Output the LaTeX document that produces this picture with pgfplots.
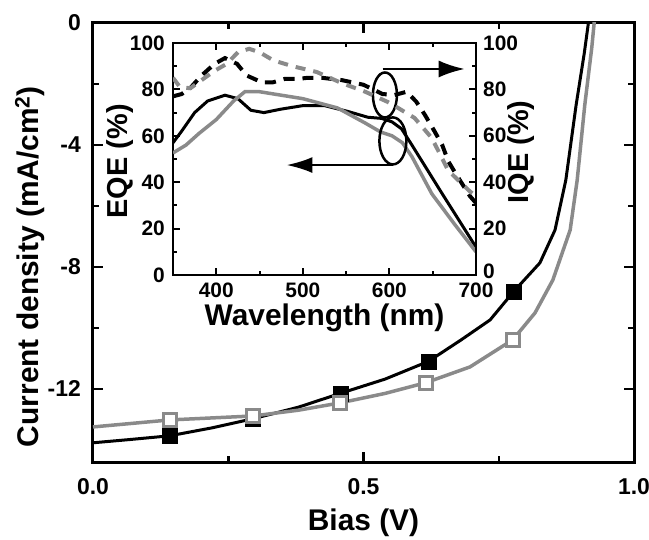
\documentclass[border=0pt]{standalone}
\usepackage{fontspec}
\setmainfont{Liberation Sans}
\usepackage{pgfplots}
\pgfplotsset{compat=1.18}
\usetikzlibrary{arrows.meta}
\definecolor{grayline}{RGB}{138,138,138}

\begin{document}
\begin{tikzpicture}
\begin{axis}[
  name=main, at={(0,0)}, anchor=south west,
  scale only axis, width=541bp, height=439bp,
  xmin=0, xmax=1, ymin=-14.4, ymax=0,
  xtick={0,0.5,1}, xticklabels={0.0,0.5,1.0},
  ytick={-12,-8,-4,0}, yticklabels={-12,-8,-4,0},
  minor x tick num=1, minor y tick num=1,
  tick align=inside,
  axis line style={line width=3bp},
  major tick length=10bp, minor tick length=6bp,
  every tick/.style={line width=2.5bp, black},
  tick label style={font=\fontsize{23}{23}\selectfont\bfseries, inner sep=0pt},
  xticklabel style={yshift=-16bp},
  yticklabel style={xshift=-12bp},
  /pgf/number format/assume math mode=true,
  xlabel={Bias (V)},
  ylabel={Current density (mA/cm\textsuperscript{2})},
  every axis x label/.style={at={(axis description cs:0.5,-0.139)}, anchor=center, inner sep=0pt, font=\fontsize{30}{30}\selectfont\bfseries},
  every axis y label/.style={at={(axis description cs:-0.1165,0.445)}, rotate=90, anchor=center, inner sep=0pt, font=\fontsize{30}{30}\selectfont\bfseries},
  clip=true,
]
% black curve (filled squares)
\addplot[black, line width=3bp] coordinates {
(0.000,-13.77) (0.070,-13.66) (0.142,-13.54) (0.220,-13.28) (0.296,-12.98)
(0.380,-12.60) (0.457,-12.15) (0.540,-11.68) (0.620,-11.10) (0.680,-10.40)
(0.734,-9.74) (0.778,-8.80) (0.826,-7.87) (0.854,-6.79) (0.874,-5.15)
(0.893,-2.69) (0.908,-1.00) (0.918,0.30)};
\addplot[only marks, mark=square*, mark size=7.5bp, black] coordinates {
(0.142,-13.54) (0.296,-12.98) (0.457,-12.15) (0.620,-11.10) (0.778,-8.80)};
% gray curve (open squares)
\addplot[grayline, line width=3.5bp] coordinates {
(0.000,-13.25) (0.142,-13.02) (0.296,-12.89) (0.380,-12.70) (0.457,-12.46)
(0.540,-12.15) (0.615,-11.80) (0.697,-11.28) (0.776,-10.39) (0.817,-9.51)
(0.850,-8.43) (0.882,-6.79) (0.895,-5.15) (0.909,-2.69) (0.922,-0.80) (0.928,0.30)};
\addplot[only marks, mark=square*, mark size=6.5bp, draw=grayline, fill=white, line width=3bp] coordinates {
(0.142,-13.02) (0.296,-12.89) (0.457,-12.46) (0.615,-11.80) (0.776,-10.39)};
\end{axis}

% inset, left axis (EQE)
\begin{axis}[
  name=inset, at={(80bp,187bp)}, anchor=south west,
  scale only axis, width=303bp, height=232bp,
  xmin=350, xmax=700, ymin=0, ymax=100,
  xtick={400,500,600,700}, ytick={0,20,40,60,80,100},
  minor x tick num=1, minor y tick num=1,
  ytick pos=left,
  tick align=inside,
  axis line style={line width=2.5bp},
  major tick length=7bp, minor tick length=4bp,
  every tick/.style={line width=2bp, black},
  tick label style={font=\fontsize{21}{21}\selectfont\bfseries, inner sep=0pt},
  xticklabel style={yshift=-8bp},
  yticklabel style={xshift=-8bp},
  /pgf/number format/assume math mode=true,
  xlabel={Wavelength (nm)}, ylabel={EQE (\%)},
  every axis x label/.style={at={(axis description cs:0.5,-0.186)}, anchor=center, inner sep=0pt, font=\fontsize{30}{30}\selectfont\bfseries},
  every axis y label/.style={at={(axis description cs:-0.175,0.49)}, rotate=90, anchor=center, inner sep=0pt, font=\fontsize{29}{29}\selectfont\bfseries},
]
\addplot[black, line width=3bp] coordinates {
(350,57) (360,62) (375,70) (390,75) (410,77.5) (425,76) (440,71) (455,70)
(475,71.5) (500,73) (525,73) (552,70.5) (575,68) (591,67.5) (603,66)
(614,63) (626,56) (645,44.6) (661,35) (680,23.8) (700,12)};
\addplot[grayline, line width=3.5bp] coordinates {
(350,52.6) (365,56) (380,61) (400,67) (420,75) (433,79) (450,79) (475,77.5)
(500,76) (514,74.6) (540,72) (572,65.5) (590,61.6) (603,60) (615,57)
(626,51) (649,35) (675,22) (700,10)};
% annotations
\draw[black, line width=2.5bp] (axis cs:594.8,77.6) ellipse [x radius=12bp, y radius=22.5bp];
\draw[black, line width=2.5bp] (axis cs:604,57.8) ellipse [x radius=13.5bp, y radius=23.5bp];
\draw[black, line width=2.5bp, -{Latex[length=26bp, width=17bp]}] (axis cs:592,88.8) -- (axis cs:687,88.8);
\draw[black, line width=2.5bp, -{Latex[length=26bp, width=16bp]}] (axis cs:604,47.4) -- (axis cs:481,47.4);
\end{axis}

% inset, right axis (IQE)
\begin{axis}[
  at={(80bp,187bp)}, anchor=south west,
  scale only axis, width=303bp, height=232bp,
  xmin=350, xmax=700, ymin=0, ymax=100,
  axis x line=none, axis y line*=right,
  ytick={20,40,60,80,100}, minor y tick num=1,
  extra y ticks={0},
  extra y tick style={yticklabel style={yshift=4bp}},
  tick align=inside,
  axis line style={line width=2.5bp, -},
  major tick length=7bp, minor tick length=4bp,
  every tick/.style={line width=2bp, black},
  tick label style={font=\fontsize{21}{21}\selectfont\bfseries, inner sep=0pt},
  yticklabel style={xshift=7bp},
  /pgf/number format/assume math mode=true,
  ylabel={IQE (\%)},
  every axis y label/.style={at={(axis description cs:1.1485,0.53)}, rotate=90, anchor=center, inner sep=0pt, font=\fontsize{29}{29}\selectfont\bfseries},
]
\addplot[black, line width=4bp, dash pattern=on 11bp off 8bp] coordinates {
(350,77) (360,78) (370,80.6) (383,86) (398,91) (410,93.5) (424,91) (435,86)
(453,83) (465,83) (479,84.5) (493,84.5) (506,85) (522,85) (545,84) (570,82)
(592,78) (606,77.6) (620,79) (631,74.7) (641,69) (652,62) (661,56) (668,49)
(676,44) (693,34) (700,31)};
\addplot[grayline, line width=4bp, dash pattern=on 10bp off 8bp] coordinates {
(350,85) (358,81) (370,80.5) (383,84) (398,88) (412,91) (425,96) (438,97.5)
(450,96) (466,92.5) (488,90) (516,87.5) (545,82.7) (572,79) (598,74.6)
(610,72) (629,67.7) (649,59) (668,45) (693,36) (700,34)};
\end{axis}

\pgfresetboundingbox
\path (-93bp,-78bp) rectangle (556bp,462bp);
\end{tikzpicture}
\end{document}
